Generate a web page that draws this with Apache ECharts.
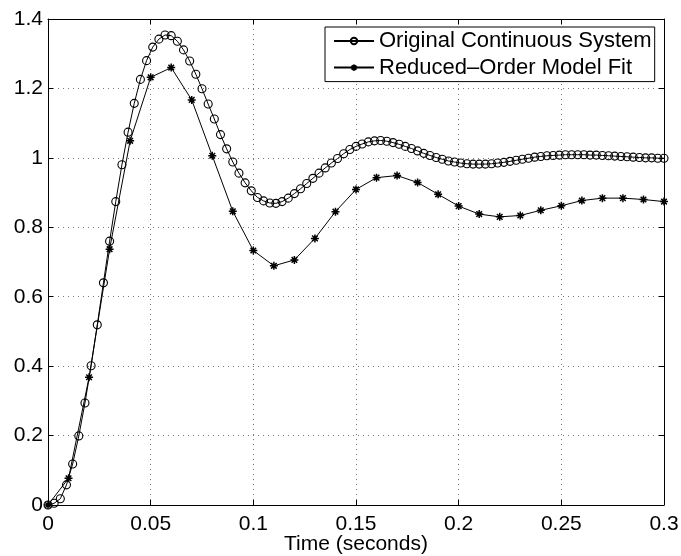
<!DOCTYPE html>
<html>
<head>
<meta charset="utf-8">
<script src="https://cdn.jsdelivr.net/npm/echarts@6/dist/echarts.min.js"></script>
<style>
html,body{margin:0;padding:0;background:#fff;}
#chart{width:681px;height:556px;}
</style>
</head>
<body>
<div id="chart"></div>
<script>
// Original continuous system: sample times (s) and step response
var origTime = [0,0.003,0.006,0.009,0.012,0.015,0.018,0.021,0.024,0.027,
  0.030,0.033,0.036,0.039,0.042,0.045,0.048,0.051,0.054,0.057,
  0.060,0.063,0.066,0.069,0.072,0.075,0.078,0.081,0.084,0.087,
  0.090,0.093,0.096,0.099,0.102,0.105,0.108,0.111,0.114,0.117,
  0.120,0.123,0.126,0.129,0.132,0.135,0.138,0.141,0.144,0.147,
  0.150,0.153,0.156,0.159,0.162,0.165,0.168,0.171,0.174,0.177,
  0.180,0.183,0.186,0.189,0.192,0.195,0.198,0.201,0.204,0.207,
  0.210,0.213,0.216,0.219,0.222,0.225,0.228,0.231,0.234,0.237,
  0.240,0.243,0.246,0.249,0.252,0.255,0.258,0.261,0.264,0.267,
  0.270,0.273,0.276,0.279,0.282,0.285,0.288,0.291,0.294,0.297,0.300];
var origValues = [0,0.005,0.018,0.058,0.118,0.199,0.294,0.401,0.519,0.640,
  0.760,0.874,0.980,1.074,1.157,1.226,1.280,1.319,1.342,1.354,
  1.352,1.336,1.311,1.279,1.241,1.199,1.155,1.112,1.067,1.026,
  0.988,0.956,0.928,0.905,0.886,0.876,0.870,0.869,0.874,0.884,
  0.897,0.911,0.926,0.941,0.956,0.971,0.985,0.998,1.012,1.024,
  1.033,1.040,1.046,1.049,1.050,1.048,1.044,1.039,1.033,1.027,
  1.020,1.013,1.007,1.001,0.996,0.991,0.988,0.985,0.983,0.982,
  0.982,0.982,0.983,0.985,0.987,0.990,0.993,0.996,0.999,1.002,
  1.004,1.006,1.007,1.008,1.009,1.009,1.009,1.009,1.008,1.008,
  1.007,1.006,1.005,1.004,1.003,1.002,1.001,1.000,1.000,0.999,0.999];

// Reduced-order model fit: sample times (s) and response
var fitTime = [0,0.01,0.02,0.03,0.04,0.05,0.06,0.07,0.08,0.09,0.10,
  0.11,0.12,0.13,0.14,0.15,0.16,0.17,0.18,0.19,0.20,
  0.21,0.22,0.23,0.24,0.25,0.26,0.27,0.28,0.29,0.30];
var fitValues = [0,0.077,0.368,0.737,1.049,1.232,1.260,1.167,1.006,0.846,0.733,
  0.689,0.706,0.768,0.845,0.909,0.943,0.949,0.929,0.895,0.861,
  0.838,0.830,0.834,0.849,0.862,0.877,0.884,0.884,0.880,0.874];

var seriesNames = ['Original Continuous System', 'Reduced\u2013Order Model Fit'];
var xTickLabels = ['0','0.05','0.1','0.15','0.2','0.25','0.3'];
var yTickLabels = ['0','0.2','0.4','0.6','0.8','1','1.2','1.4'];
var xAxisTitle = 'Time (seconds)';

function zip(a, b){ var r=[]; for(var i=0;i<a.length;i++) r.push([a[i], b[i]]); return r; }

var FONT = '"Liberation Sans", Arial, Helvetica, sans-serif';
var asterisk = 'path://M0,-10L0,10M-10,0L10,0M-7,-7L7,7M-7,7L7,-7';

var gridLine = {show:true, lineStyle:{color:'#777', width:1, type:[1,4]}};
function xAx(pos, labels){
  return {type:'value', position:pos, min:0, max:0.3, interval:0.05,
    axisLine:{show:true, onZero:false, lineStyle:{color:'#000', width:1}},
    axisTick:{show:true, inside:true, length:5, lineStyle:{color:'#000'}},
    axisLabel:{show:labels, color:'#000', fontSize:21, fontFamily:FONT, margin:9,
      formatter:function(v){ return xTickLabels[Math.round(v/0.05)]; }},
    splitLine: pos==='bottom' ? gridLine : {show:false},
    name: pos==='bottom' ? xAxisTitle : '', nameLocation:'middle', nameGap:29,
    nameMoveOverlap:false,
    nameTextStyle:{color:'#000', fontSize:21, fontFamily:FONT}};
}
function yAx(pos, labels){
  return {type:'value', position:pos, min:0, max:1.4, interval:0.2,
    axisLine:{show:true, onZero:false, lineStyle:{color:'#000', width:1}},
    axisTick:{show:true, inside:true, length:5, lineStyle:{color:'#000'}},
    axisLabel:{show:labels, color:'#000', fontSize:21, fontFamily:FONT, margin:5,
      formatter:function(v){ return yTickLabels[Math.round(v/0.2)]; }},
    splitLine: pos==='left' ? gridLine : {show:false}};
}

var chart = echarts.init(document.getElementById('chart'), null, {renderer:'canvas'});
chart.setOption({
  backgroundColor:'#fff',
  animation:false,
  grid:{left:48, right:17, top:19, bottom:51, containLabel:false, outerBoundsMode:'none'},
  xAxis:[xAx('bottom', true), xAx('top', false)],
  yAxis:[yAx('left', true), yAx('right', false)],
  legend:{
    orient:'vertical', left:325, top:27,
    backgroundColor:'#fff', borderColor:'#000', borderWidth:1,
    padding:[3,3,3,8], itemGap:4.6, itemWidth:40, itemHeight:8,
    textStyle:{color:'#000', fontSize:22, fontFamily:FONT, lineHeight:22},
    data:seriesNames
  },
  series:[
    {name:seriesNames[0], type:'line', xAxisIndex:0, yAxisIndex:0,
     data:zip(origTime, origValues),
     symbol:'circle', symbolSize:8, showAllSymbol:true,
     lineStyle:{color:'#000', width:1},
     itemStyle:{color:'rgba(255,255,255,0)', borderColor:'#000', borderWidth:1.1},
     emphasis:{disabled:true}},
    {name:seriesNames[1], type:'line', xAxisIndex:0, yAxisIndex:0,
     data:zip(fitTime, fitValues),
     symbol:asterisk, symbolSize:8, showAllSymbol:true,
     lineStyle:{color:'#000', width:1},
     itemStyle:{color:'rgba(0,0,0,0)', borderColor:'#000', borderWidth:1.5},
     emphasis:{disabled:true}}
  ]
});
</script>
</body>
</html>
